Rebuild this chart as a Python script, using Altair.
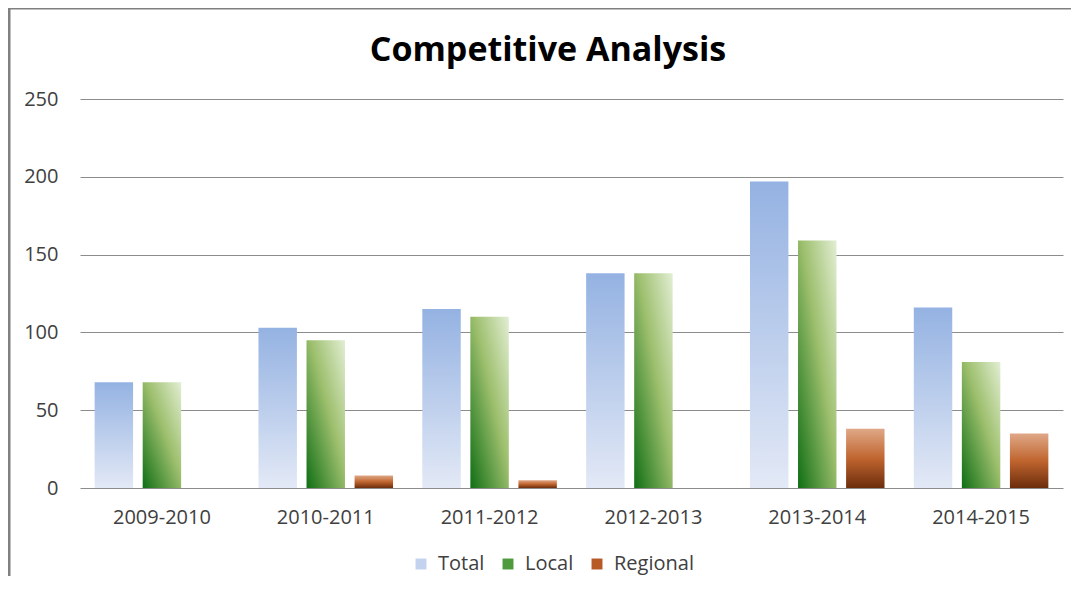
import altair as alt
import pandas as pd

categories = ["2009-2010", "2010-2011", "2011-2012", "2012-2013", "2013-2014", "2014-2015"]
series = ["Total", "Local", "Regional"]
total = [68, 103, 115, 138, 197, 116]
local = [68, 95, 110, 138, 159, 81]
regional = [0, 8, 5, 0, 38, 35]
chart_title = "Competitive Analysis"

rows = []
for i, c in enumerate(categories):
    rows.append({"period": c, "series": "Total", "value": total[i]})
    rows.append({"period": c, "series": "Local", "value": local[i]})
    rows.append({"period": c, "series": "Regional", "value": regional[i]})
df = pd.DataFrame(rows)

FONT = "Open Sans"

grad_total = {
    "gradient": "linear", "x1": 0, "y1": 0, "x2": 0, "y2": 1,
    "stops": [{"offset": 0, "color": "#94b2e2"}, {"offset": 1, "color": "#e3e9f6"}],
}
grad_local = {
    "gradient": "linear", "x1": 1, "y1": 0, "x2": 0, "y2": 1,
    "stops": [
        {"offset": 0, "color": "#e2eed3"},
        {"offset": 0.45, "color": "#9dbf6d"},
        {"offset": 1, "color": "#0f6e14"},
    ],
}
grad_regional = {
    "gradient": "linear", "x1": 0, "y1": 0, "x2": 0, "y2": 1,
    "stops": [
        {"offset": 0, "color": "#dfa887"},
        {"offset": 0.5, "color": "#c0652f"},
        {"offset": 1, "color": "#6c2d0c"},
    ],
}

x_enc = alt.X(
    "period:N",
    sort=categories,
    scale=alt.Scale(domain=categories, paddingInner=0.12, paddingOuter=0.06),
    axis=alt.Axis(title=None, labelAngle=0, ticks=False, domain=False, grid=False,
                  labelPadding=19, labelFontSize=20, labelColor="#404040", labelFont=FONT),
)
xo_enc = alt.XOffset(
    "series:N",
    sort=series,
    scale=alt.Scale(domain=series, paddingInner=0.2, paddingOuter=0.1),
)
y_enc = alt.Y(
    "value:Q",
    scale=alt.Scale(domain=[0, 250], nice=False),
    axis=alt.Axis(title=None, values=[0, 50, 100, 150, 200, 250], ticks=False, domain=False,
                  gridColor="#8c8c8c", gridWidth=1, labelPadding=22, labelFontSize=20,
                  labelColor="#404040", labelFont=FONT),
)

base = alt.Chart(df)

legend_layer = base.mark_bar(opacity=0).encode(
    x=x_enc, xOffset=xo_enc, y=y_enc,
    color=alt.Color(
        "series:N",
        sort=series,
        scale=alt.Scale(domain=series, range=["#c3d3ef", "#4f9a3c", "#b65a28"]),
        legend=alt.Legend(
            title=None, orient="none", direction="horizontal", legendX=331, legendY=455,
            symbolType="square", symbolSize=120, symbolOpacity=1, symbolStrokeWidth=0,
            labelFontSize=20, labelColor="#404040", labelFont=FONT, columnPadding=13,
            labelOffset=7,
        ),
    ),
)

def series_layer(name, grad):
    return base.transform_filter(alt.datum.series == name).mark_bar(fill=grad).encode(
        x=x_enc, xOffset=xo_enc, y=y_enc
    )

one = pd.DataFrame({"t": [chart_title]})
frame_top = alt.Chart(one).mark_rule(color="#808080", strokeWidth=3, clip=False).encode(
    x=alt.value(-72), x2=alt.value(1000), y=alt.value(-91)
)
frame_left = alt.Chart(one).mark_rule(color="#808080", strokeWidth=3, clip=False).encode(
    x=alt.value(-71), y=alt.value(-92), y2=alt.value(500)
)
title_layer = alt.Chart(one).mark_text(
    font=FONT, fontSize=34, fontWeight="bold", color="#000000",
    align="center", baseline="alphabetic", clip=False,
).encode(text="t:N", x=alt.value(468), y=alt.value(-38))

chart = alt.layer(
    frame_top,
    frame_left,
    legend_layer,
    series_layer("Total", grad_total),
    series_layer("Local", grad_local),
    series_layer("Regional", grad_regional),
    title_layer,
).properties(
    width=983,
    height=389,
    autosize=alt.AutoSizeParams(type="none"),
    padding={"left": 72, "top": 91, "right": 8, "bottom": 88},
    view=alt.ViewBackground(stroke="white", strokeWidth=0, fill="white"),
).configure_view(
    strokeWidth=0, stroke="white", fill="white"
).configure_axis(
    domain=False
).configure(background="white")

chart.save("out.html", embed_options={"renderer": "svg", "actions": False})
